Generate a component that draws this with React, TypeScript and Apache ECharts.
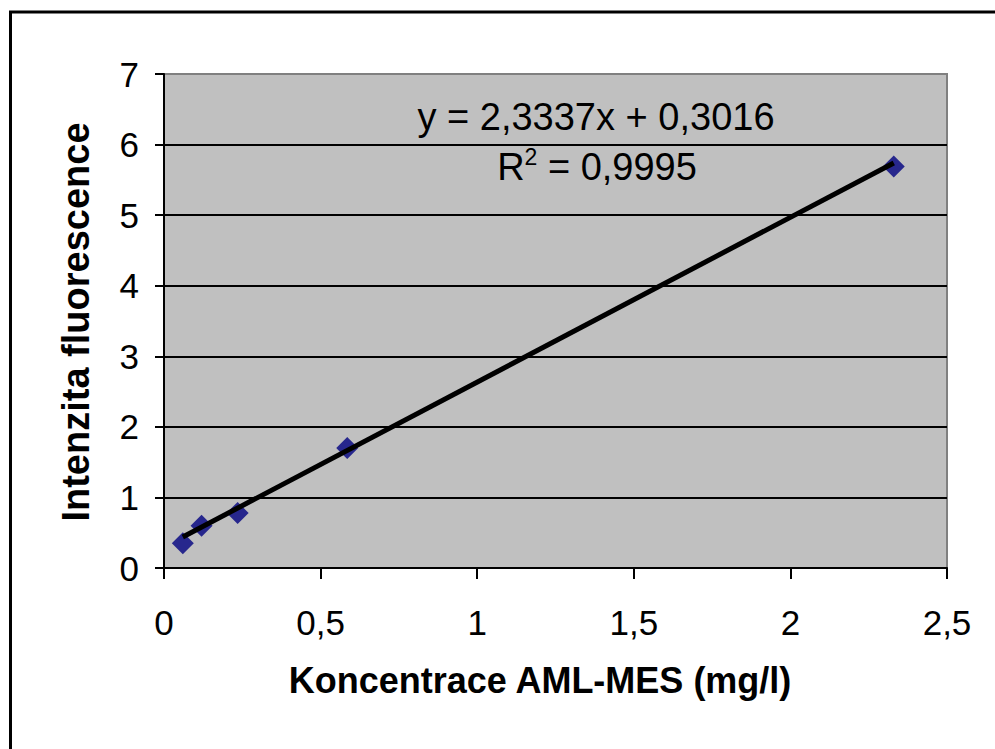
import React, { useEffect, useRef } from "react";
import * as echarts from "echarts";

const concentrations = [0.06, 0.12, 0.235, 0.585, 2.33];
const intensities = [0.35, 0.6, 0.78, 1.7, 5.69];
const trendX = [0.06, 2.33];
const trendY = [0.44, 5.74];
const equationText = "y = 2,3337x + 0,3016";
const r2Value = "0,9995";
const xTitle = "Koncentrace AML-MES (mg/l)";
const yTitle = "Intenzita fluorescence";

const FONT = "'Liberation Sans', Arial, sans-serif";

export default function App() {
  const ref = useRef<HTMLDivElement>(null);
  useEffect(() => {
    if (!ref.current) return;
    const chart = echarts.init(ref.current, null, { renderer: "svg" });
    const fmt = (v: number) => String(v).replace(".", ",");
    chart.setOption({
      animation: false,
      backgroundColor: "#ffffff",
      grid: {
        left: 164,
        top: 74,
        right: 48,
        bottom: 181,
        show: true,
        backgroundColor: "#C0C0C0",
        borderColor: "#808080",
        borderWidth: 2,
      },
      xAxis: {
        type: "value",
        min: 0,
        max: 2.5,
        interval: 0.5,
        axisLine: { show: true, onZero: false, lineStyle: { color: "#000", width: 2 } },
        axisTick: { show: true, length: 11, lineStyle: { color: "#000", width: 2 } },
        axisLabel: {
          margin: 37,
          color: "#000",
          fontSize: 35,
          fontFamily: FONT,
          formatter: fmt,
        },
        splitLine: { show: false },
      },
      yAxis: {
        type: "value",
        min: 0,
        max: 7,
        interval: 1,
        axisLine: { show: true, onZero: false, lineStyle: { color: "#000", width: 2 } },
        axisTick: { show: true, length: 9, lineStyle: { color: "#000", width: 2 } },
        axisLabel: {
          margin: 25,
          color: "#000",
          fontSize: 35,
          fontFamily: FONT,
          formatter: fmt,
        },
        splitLine: {
          show: true,
          lineStyle: {
            color: ["#000", "#000", "#000", "#000", "#000", "#000", "#000", "#808080"],
            width: 2,
          },
        },
      },
      series: [
        {
          type: "scatter",
          data: concentrations.map((x, i) => [x, intensities[i]]),
          symbol: "diamond",
          symbolSize: 22,
          itemStyle: { color: "#000080" },
          z: 2,
        },
        {
          type: "line",
          data: trendX.map((x, i) => [x, trendY[i]]),
          showSymbol: false,
          symbol: "none",
          lineStyle: { color: "#000", width: 5 },
          z: 3,
        },
      ],
      graphic: [
        {
          type: "rect",
          shape: { x: 10.5, y: 12, width: 1100, height: 900 },
          style: { fill: "none", stroke: "#000", lineWidth: 3 },
          silent: true,
          z: 10,
        },
        {
          type: "text",
          x: 540,
          y: 680,
          style: {
            text: xTitle,
            font: `bold 36px ${FONT}`,
            fill: "#000",
            align: "center",
            verticalAlign: "middle",
          },
        },
        {
          type: "text",
          x: 76,
          y: 322,
          rotation: Math.PI / 2,
          style: {
            text: yTitle,
            font: `bold 38px ${FONT}`,
            fill: "#000",
            align: "center",
            verticalAlign: "middle",
          },
        },
        {
          type: "text",
          x: 596,
          y: 117,
          z: 20,
          style: {
            text: equationText,
            font: `38px ${FONT}`,
            fill: "#000",
            align: "center",
            verticalAlign: "middle",
          },
        },
        {
          type: "text",
          x: 597,
          y: 167,
          z: 20,
          style: {
            text: `{a|R}{b|2}{a| = ${r2Value}}`,
            align: "center",
            verticalAlign: "middle",
            fill: "#000",
            rich: {
              a: { fontSize: 38, fontFamily: FONT, lineHeight: 44, fill: "#000" },
              b: { fontSize: 23, fontFamily: FONT, lineHeight: 22, verticalAlign: "top", fill: "#000" },
            },
          },
        },
      ],
    });
    return () => chart.dispose();
  }, []);
  return (
    <div
      ref={ref}
      style={{ position: "absolute", left: 0, top: 0, width: 995, height: 749 }}
    />
  );
}
